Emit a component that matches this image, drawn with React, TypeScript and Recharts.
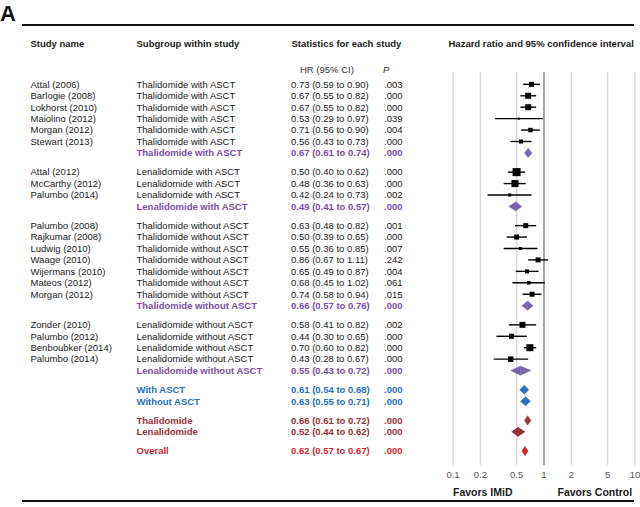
import React from 'react';
import {
  ScatterChart,
  Scatter,
  XAxis,
  YAxis,
  CartesianGrid,
  ReferenceLine,
  ReferenceArea,
  Customized,
} from 'recharts';

// ---------- data ----------
const studyNames = [
  'Attal (2006)', 'Barlogie (2008)', 'Lokhorst (2010)', 'Maiolino (2012)', 'Morgan (2012)', 'Stewart (2013)',
  'Attal (2012)', 'McCarthy (2012)', 'Palumbo (2014)',
  'Palumbo (2008)', 'Rajkumar (2008)', 'Ludwig (2010)', 'Waage (2010)', 'Wijermans (2010)', 'Mateos (2012)', 'Morgan (2012)',
  'Zonder (2010)', 'Palumbo (2012)', 'Benboubker (2014)', 'Palumbo (2014)',
];
const studyGroup = [0, 0, 0, 0, 0, 0, 1, 1, 1, 2, 2, 2, 2, 2, 2, 2, 3, 3, 3, 3];
const studyHR = [0.73, 0.67, 0.67, 0.53, 0.71, 0.56, 0.5, 0.48, 0.42, 0.63, 0.5, 0.55, 0.86, 0.65, 0.68, 0.74, 0.58, 0.44, 0.7, 0.43];
const studyLower = [0.59, 0.55, 0.55, 0.29, 0.56, 0.43, 0.4, 0.36, 0.24, 0.48, 0.39, 0.36, 0.67, 0.49, 0.45, 0.58, 0.41, 0.3, 0.6, 0.28];
const studyUpper = [0.9, 0.82, 0.82, 0.97, 0.9, 0.73, 0.62, 0.63, 0.73, 0.82, 0.65, 0.85, 1.11, 0.87, 1.02, 0.94, 0.82, 0.65, 0.82, 0.67];
const studyP = ['.003', '.000', '.000', '.039', '.004', '.000', '.000', '.000', '.002', '.001', '.000', '.007', '.242', '.004', '.061', '.015', '.002', '.000', '.000', '.000'];
const studyWeight = [5.7, 7.1, 7.1, 1.4, 5.0, 4.3, 10, 8.6, 2.9, 5.7, 5.7, 2.9, 5.7, 4.3, 3.6, 5.7, 7.1, 5.7, 8.6, 6.4];

const groupLabels = [
  'Thalidomide with ASCT', 'Lenalidomide with ASCT', 'Thalidomide without ASCT', 'Lenalidomide without ASCT',
];

const summaryLabels = [
  'Thalidomide with ASCT', 'Lenalidomide with ASCT', 'Thalidomide without ASCT', 'Lenalidomide without ASCT',
  'With ASCT', 'Without ASCT', 'Thalidomide', 'Lenalidomide', 'Overall',
];
const summaryHR = [0.67, 0.49, 0.66, 0.55, 0.61, 0.63, 0.66, 0.52, 0.62];
const summaryLower = [0.61, 0.41, 0.57, 0.43, 0.54, 0.55, 0.61, 0.44, 0.57];
const summaryUpper = [0.74, 0.57, 0.76, 0.72, 0.68, 0.71, 0.72, 0.62, 0.67];
const summaryP = ['.000', '.000', '.000', '.000', '.000', '.000', '.000', '.000', '.000'];
const summaryKind = ['subgroup', 'subgroup', 'subgroup', 'subgroup', 'asct', 'asct', 'drug', 'drug', 'overall'];
const summaryBlocks = [[4, 5], [6, 7], [8]];

const xTicks = [0.1, 0.2, 0.5, 1, 2, 5, 10];

// ---------- styles ----------
const FONT = '"Liberation Sans", Arial, sans-serif';
const FS = 9.5;
const TEXT_COLOR = { subgroup: '#7a4fa3', asct: '#2670bd', drug: '#963038', overall: '#d42630' };
const DIAMOND_COLOR = { subgroup: '#7963ae', asct: '#1f70c1', drug: '#953034', overall: '#d1232d' };
const GAP = 0.68;
const COL = { name: 30.5, sub: 136.5, hr: 291, p: 384 };

// ---------- build rows ----------
type Row = {
  pos: number;
  kind: string; // 'study' or summary kind
  name: string;
  sub: string;
  hr: number;
  lo: number;
  hi: number;
  p: string;
  w: number;
};

const rows: Row[] = [];
let cursor = 0;
const pushBlock = (block: Row[]) => {
  if (rows.length) cursor += GAP;
  block.forEach((r) => {
    rows.push({ ...r, pos: cursor });
    cursor += 1;
  });
  cursor -= 1;
  cursor += 1;
};
// groups
(() => {
  let first = true;
  for (let g = 0; g < 4; g++) {
    const block: Row[] = [];
    studyNames.forEach((n, i) => {
      if (studyGroup[i] === g) {
        block.push({ pos: 0, kind: 'study', name: n, sub: groupLabels[g], hr: studyHR[i], lo: studyLower[i], hi: studyUpper[i], p: studyP[i], w: studyWeight[i] });
      }
    });
    block.push({ pos: 0, kind: summaryKind[g], name: '', sub: summaryLabels[g], hr: summaryHR[g], lo: summaryLower[g], hi: summaryUpper[g], p: summaryP[g], w: 0 });
    if (!first) cursor += GAP;
    first = false;
    block.forEach((r) => { rows.push({ ...r, pos: cursor }); cursor += 1; });
  }
  summaryBlocks.forEach((b) => {
    cursor += GAP;
    b.forEach((k) => {
      rows.push({ pos: cursor, kind: summaryKind[k], name: '', sub: summaryLabels[k], hr: summaryHR[k], lo: summaryLower[k], hi: summaryUpper[k], p: summaryP[k], w: 0 });
      cursor += 1;
    });
  });
})();
void pushBlock;

const lastPos = rows[rows.length - 1].pos;
const yDomain = [-1.08, lastPos + 1.22];
const studyRows = rows.filter((r) => r.kind === 'study');
const summaryRows = rows.filter((r) => r.kind !== 'study');
const scatterData = studyRows.map((r) => ({ x: r.hr, y: r.pos, w: r.w }));

const fmt = (v: number) => v.toFixed(2);

// ---------- components ----------
const RowTick = (props: any) => {
  const { y, payload } = props;
  const row = rows.find((r) => Math.abs(r.pos - payload.value) < 1e-6);
  if (!row) return null;
  const isStudy = row.kind === 'study';
  const color = isStudy ? '#1a1a1a' : (TEXT_COLOR as any)[row.kind];
  const weight = isStudy ? 'normal' : 'bold';
  const common = { y, dy: '0.35em', fontFamily: FONT, fontSize: FS, fill: color, fontWeight: weight } as any;
  return (
    <g>
      {row.name && <text x={COL.name} {...common}>{row.name}</text>}
      <text x={COL.sub} {...common}>{row.sub}</text>
      <text x={COL.hr} {...common}>{`${fmt(row.hr)} (${fmt(row.lo)} to ${fmt(row.hi)})`}</text>
      <text x={COL.p} {...common}>{row.p}</text>
    </g>
  );
};

const SquareShape = (props: any) => {
  const { cx, cy, payload } = props;
  const s = 1 + 0.7 * payload.w;
  return <rect x={cx - s / 2} y={cy - s / 2} width={s} height={s} fill="#000" />;
};

const LeftHalf = (color: string) => (p: any) => {
  const { x, y, width, height } = p;
  return (
    <polygon
      points={`${x},${y + height / 2} ${x + width},${y} ${x + width},${y + height}`}
      fill={color}
      stroke={color}
      strokeWidth={0.4}
    />
  );
};
const RightHalf = (color: string) => (p: any) => {
  const { x, y, width, height } = p;
  return (
    <polygon
      points={`${x},${y} ${x + width},${y + height / 2} ${x},${y + height}`}
      fill={color}
      stroke={color}
      strokeWidth={0.4}
    />
  );
};

const Decor = () => {
  const hdr = { fontFamily: FONT, fontSize: FS, fontWeight: 'bold', fill: '#1a1a1a' } as any;
  return (
    <g>
      <text x={0} y={21} fontFamily={FONT} fontSize={22} fontWeight="bold" fill="#111">A</text>
      <line x1={22} x2={634} y1={25} y2={25} stroke="#111" strokeWidth={2} />
      <text x={30.5} y={47} {...hdr}>Study name</text>
      <text x={136.5} y={47} {...hdr}>Subgroup within study</text>
      <text x={291.5} y={47} {...hdr}>Statistics for each study</text>
      <text x={448.5} y={47} {...hdr}>Hazard ratio and 95% confidence interval</text>
      <text x={300} y={72.5} fontFamily={FONT} fontSize={FS} fill="#333">HR (95% CI)</text>
      <text x={383} y={72.5} fontFamily={FONT} fontSize={FS} fill="#333" fontStyle="italic">P</text>
      <text x={453} y={496} fontFamily={FONT} fontSize={10.5} fontWeight="bold" fill="#1a1a1a">Favors IMiD</text>
      <text x={557.5} y={496} fontFamily={FONT} fontSize={10.5} fontWeight="bold" fill="#1a1a1a">Favors Control</text>
      <line x1={22} x2={634} y1={501} y2={501} stroke="#111" strokeWidth={2} />
    </g>
  );
};

export default function App() {
  return (
    <div style={{ position: 'absolute', left: 0, top: 0, background: '#fff' }}>
      <ScatterChart width={640} height={507} margin={{ top: 72, right: 5, bottom: 12, left: 13 }}>
        <CartesianGrid horizontal={false} vertical stroke="#d9d9d9" strokeWidth={1.5} />
        <XAxis
          dataKey="x"
          type="number"
          scale="log"
          domain={[0.1, 10]}
          allowDataOverflow
          ticks={xTicks}
          interval={0}
          height={30}
          axisLine={false}
          tickLine={false}
          tickSize={6}
          tickMargin={0}
          tickFormatter={(v: number) => String(v)}
          tick={{ fontFamily: FONT, fontSize: FS, fill: '#555' }}
        />
        <YAxis
          dataKey="y"
          type="number"
          domain={yDomain}
          allowDataOverflow
          reversed
          ticks={rows.map((r) => r.pos)}
          interval={0}
          width={440}
          axisLine={false}
          tickLine={false}
          tick={<RowTick />}
        />
        <ReferenceLine x={1} stroke="#8c8c8c" strokeWidth={1.5} />
        {studyRows.map((r, i) => (
          <ReferenceLine
            key={`w${i}`}
            segment={[{ x: r.lo, y: r.pos }, { x: r.hi, y: r.pos }]}
            stroke="#000"
            strokeWidth={1.4}
          />
        ))}
        {summaryRows.map((r, i) => (
          <ReferenceArea
            key={`dl${i}`}
            x1={r.lo}
            x2={r.hr}
            y1={r.pos - 0.4}
            y2={r.pos + 0.4}
            shape={LeftHalf((DIAMOND_COLOR as any)[r.kind])}
          />
        ))}
        {summaryRows.map((r, i) => (
          <ReferenceArea
            key={`dr${i}`}
            x1={r.hr}
            x2={r.hi}
            y1={r.pos - 0.4}
            y2={r.pos + 0.4}
            shape={RightHalf((DIAMOND_COLOR as any)[r.kind])}
          />
        ))}
        <Scatter data={scatterData} isAnimationActive={false} shape={<SquareShape />} />
        <Customized component={Decor} />
      </ScatterChart>
    </div>
  );
}
